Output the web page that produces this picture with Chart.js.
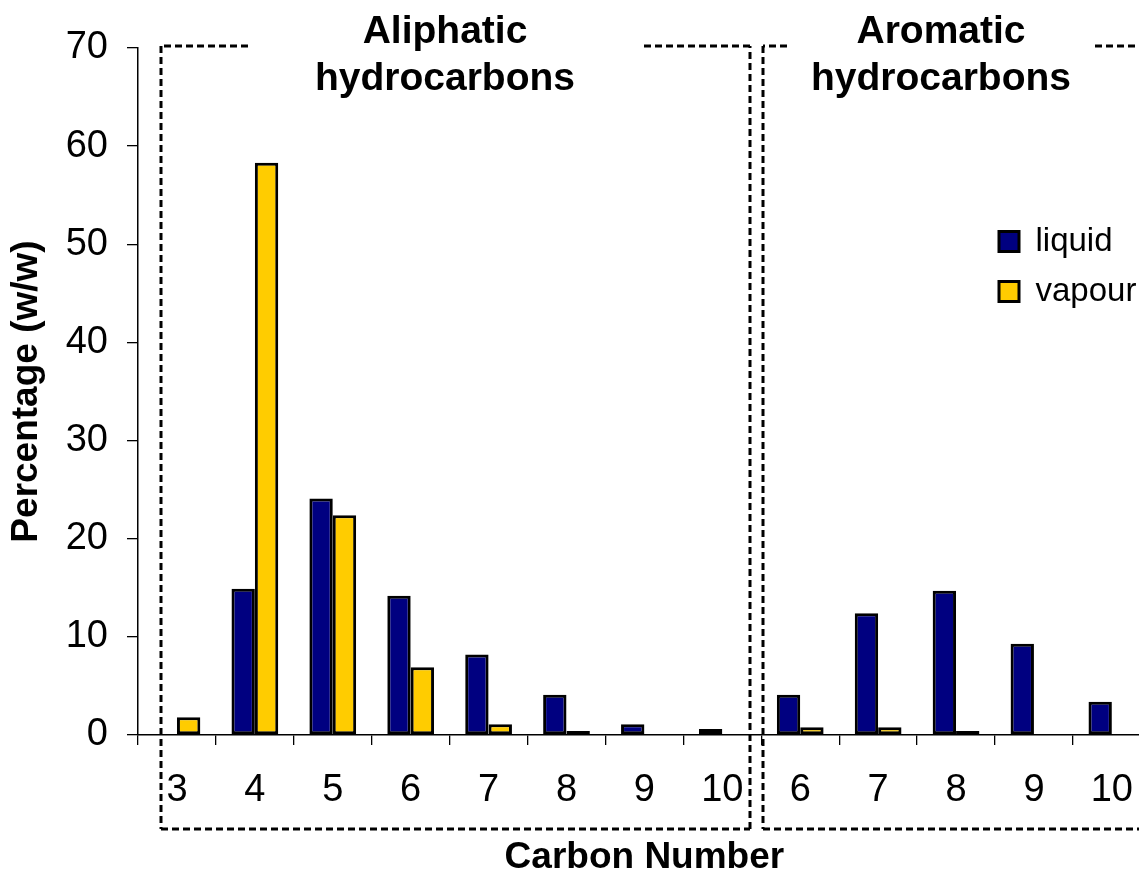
<!DOCTYPE html>
<html>
<head>
<meta charset="utf-8">
<script src="https://cdn.jsdelivr.net/npm/chart.js@4"></script>
<style>
  html, body { margin: 0; padding: 0; background: #ffffff; overflow: hidden; }
  #wrap { width: 1139px; height: 884px; overflow: hidden; }
</style>
</head>
<body>
<div id="wrap"><canvas id="c" width="1156" height="884"></canvas></div>
<script>
// ---- data ----
const categories = ['3', '4', '5', '6', '7', '8', '9', '10', '6', '7', '8', '9', '10'];
const liquid = [0, 14.9, 24.1, 14.2, 8.2, 4.1, 1.1, 0.6, 4.1, 12.4, 14.7, 9.3, 3.4];
const vapour = [1.8, 58.3, 22.4, 6.9, 1.1, 0.4, 0, 0, 0.8, 0.8, 0.4, 0, 0];
const yTicks = [0, 10, 20, 30, 40, 50, 60, 70];
const groupTitles = [['Aliphatic', 'hydrocarbons'], ['Aromatic', 'hydrocarbons']];
const seriesNames = ['liquid', 'vapour'];

const FONT = '"Liberation Sans", Arial, Helvetica, sans-serif';

const decorPlugin = {
  id: 'decor',
  afterLayout(chart) {
    const lg = chart.legend;
    if (lg) {
      lg.left = 982; lg.top = 208;
      lg.right = lg.left + 200; lg.bottom = lg.top + 200;
      lg.width = 200; lg.height = 200;
    }
  },
  afterDraw(chart) {
    const ctx = chart.ctx;
    ctx.save();
    // dashed group boxes
    ctx.strokeStyle = '#000';
    ctx.lineWidth = 3;
    ctx.setLineDash([7, 4]);
    const seg = (x1, y1, x2, y2) => { ctx.beginPath(); ctx.moveTo(x1, y1); ctx.lineTo(x2, y2); ctx.stroke(); };
    // aliphatic box
    seg(248, 46, 161, 46);
    seg(161, 46, 161, 829);
    seg(161, 829, 750, 829);
    seg(750, 829, 750, 46);
    seg(750, 46, 642, 46);
    // aromatic box
    seg(787, 46, 763, 46);
    seg(763, 46, 763, 829);
    seg(763, 829, 1156, 829);
    seg(1095, 46, 1156, 46);
    ctx.setLineDash([]);
    // group titles
    ctx.fillStyle = '#000';
    ctx.font = 'bold 39px ' + FONT;
    ctx.textAlign = 'center';
    ctx.textBaseline = 'alphabetic';
    const centers = [445, 941];
    groupTitles.forEach((lines, i) => {
      ctx.fillText(lines[0], centers[i], 43);
      ctx.fillText(lines[1], centers[i], 90);
    });
    ctx.restore();
  }
};

const chart = new Chart(document.getElementById('c'), {
  type: 'bar',
  data: {
    labels: categories,
    datasets: [
      { label: seriesNames[0], data: liquid, backgroundColor: '#000080', borderColor: '#000000', borderWidth: 3, borderSkipped: false },
      { label: seriesNames[1], data: vapour, backgroundColor: '#FFCC00', borderColor: '#000000', borderWidth: 3, borderSkipped: false }
    ]
  },
  options: {
    responsive: false,
    animation: false,
    devicePixelRatio: 1,
    layout: { padding: { top: 48, right: 0, bottom: 0, left: 0 } },
    datasets: { bar: { categoryPercentage: 0.6, barPercentage: 1.0 } },
    plugins: {
      legend: {
        position: 'chartArea',
        align: 'start',
        labels: {
          boxWidth: 20, boxHeight: 20, padding: 17,
          color: '#000',
          font: { family: FONT, size: 33 }
        }
      },
      tooltip: { enabled: false },
      title: { display: false }
    },
    scales: {
      x: {
        afterFit(s) { s.height = 149; },
        grid: { drawOnChartArea: false, drawTicks: true, tickLength: 10, color: '#000', lineWidth: 1.3, offset: true },
        border: { display: true, color: '#000', width: 1.5 },
        ticks: { color: '#000', padding: 23, maxRotation: 0, autoSkip: false, font: { family: FONT, size: 38 } },
        title: { display: true, text: 'Carbon Number', color: '#000', padding: { top: 0, bottom: 4 }, font: { family: FONT, size: 37, weight: 'bold' } }
      },
      y: {
        min: 0, max: 70,
        afterFit(s) { s.width = 138; },
        afterBuildTicks(s) { s.ticks = yTicks.map(v => ({ value: v })); },
        grid: { drawOnChartArea: false, drawTicks: true, tickLength: 11, color: '#000', lineWidth: 1.3 },
        border: { display: true, color: '#000', width: 1.5 },
        ticks: { color: '#000', padding: 19, font: { family: FONT, size: 38 } },
        title: { display: true, text: 'Percentage (w/w)', color: '#000', padding: { top: 5, bottom: 0 }, font: { family: FONT, size: 37, weight: 'bold' } }
      }
    }
  },
  plugins: [decorPlugin]
});
</script>
</body>
</html>
